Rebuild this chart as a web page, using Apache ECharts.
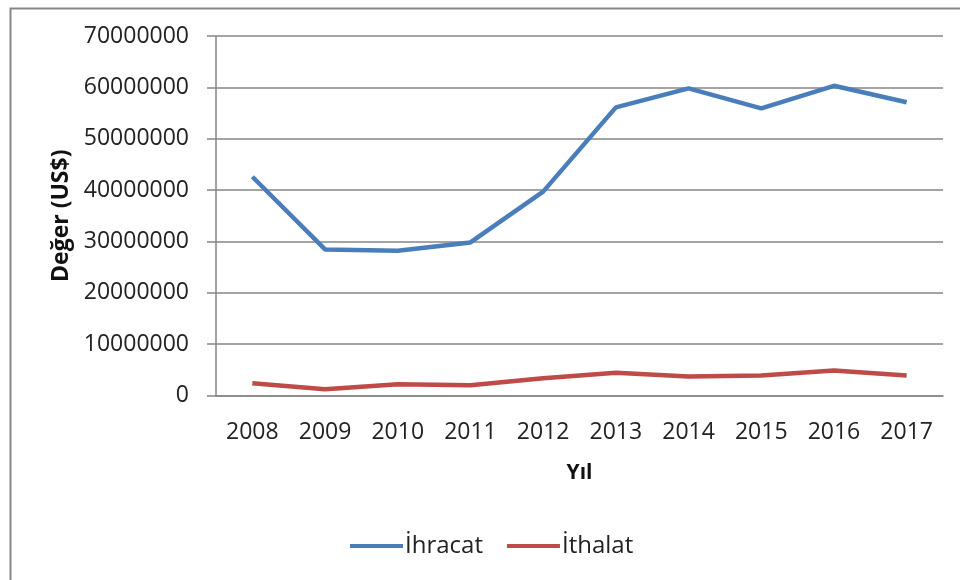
<!DOCTYPE html>
<html>
<head>
<meta charset="utf-8">
<script src="https://cdn.jsdelivr.net/npm/echarts@6/dist/echarts.min.js"></script>
<style>html,body{margin:0;padding:0;background:#fff;}#c{width:960px;height:580px;}</style>
</head>
<body>
<div id="c"></div>
<script>
var years = ['2008','2009','2010','2011','2012','2013','2014','2015','2016','2017'];
var ihracat = [42600000, 28450000, 28200000, 29800000, 39700000, 56100000, 59800000, 55900000, 60300000, 57100000];
var ithalat = [2400000, 1200000, 2200000, 2000000, 3350000, 4450000, 3700000, 3900000, 4850000, 3900000];
var yTicks = [0, 10000000, 20000000, 30000000, 40000000, 50000000, 60000000, 70000000];

var font = 'Open Sans';
var chart = echarts.init(document.getElementById('c'));
chart.setOption({
  animation: false,
  backgroundColor: '#fff',
  graphic: [{
    type: 'rect', left: 8, top: 6,
    shape: {width: 1000, height: 1000},
    style: {fill: 'none', stroke: '#878787', lineWidth: 2},
    silent: true
  }],
  grid: {left: 216, right: 17, top: 36, bottom: 184.5, containLabel: false},
  legend: {
    bottom: 17, left: 345,
    itemWidth: 53, itemHeight: 4, itemGap: 24,
    icon: 'rect',
    textStyle: {fontFamily: font, fontSize: 24, color: '#222', padding: [0,0,0,-3]},
    data: ['İhracat', 'İthalat']
  },
  xAxis: {
    type: 'category', data: years, boundaryGap: true,
    name: 'Yıl', nameLocation: 'middle', nameGap: 67,
    nameTextStyle: {fontFamily: font, fontSize: 21, fontWeight: 'bold', color: '#111'},
    axisLine: {lineStyle: {color: '#868686', width: 1.5}},
    axisTick: {show: false},
    axisLabel: {fontFamily: font, fontSize: 23, color: '#222', margin: 25}
  },
  yAxis: {
    type: 'value', min: 0, max: 70000000, interval: 10000000,
    name: 'Değer (US$)', nameLocation: 'middle', nameGap: 138, nameRotate: 90,
    nameTextStyle: {fontFamily: font, fontSize: 23, fontWeight: 'bold', color: '#111'},
    axisLine: {show: true, lineStyle: {color: '#868686', width: 1.5}},
    axisTick: {show: true, length: 9, inside: false, lineStyle: {color: '#868686', width: 1.5}},
    splitLine: {show: true, lineStyle: {color: '#868686', width: 1.5}},
    axisLabel: {fontFamily: font, fontSize: 23, color: '#222', margin: 27,
      formatter: function (v) { return yTicks.indexOf(v) >= 0 ? String(v) : ''; }}
  },
  series: [{
    name: 'İhracat', type: 'line', data: ihracat, symbol: 'none',
    lineStyle: {color: '#4a7ebb', width: 4.5}, itemStyle: {color: '#4a7ebb'}
  }, {
    name: 'İthalat', type: 'line', data: ithalat, symbol: 'none',
    lineStyle: {color: '#be4b48', width: 4.5}, itemStyle: {color: '#be4b48'}
  }]
});
</script>
</body>
</html>
